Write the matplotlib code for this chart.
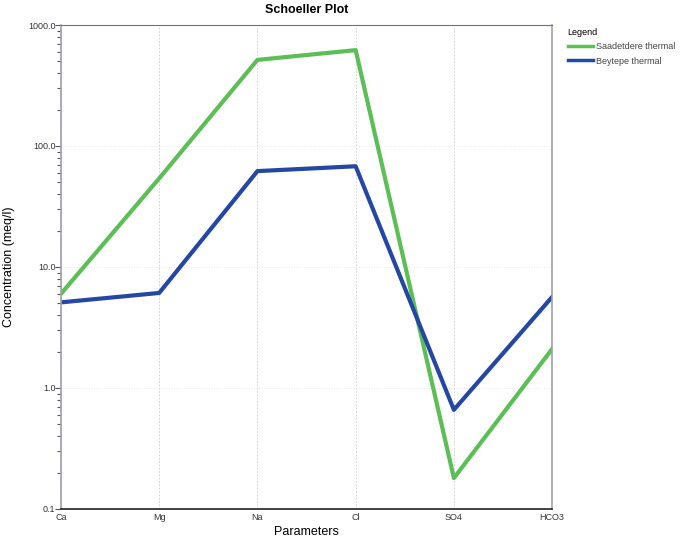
import matplotlib
matplotlib.use('Agg')
import matplotlib.pyplot as plt
from matplotlib.ticker import LogLocator, NullFormatter

params = ['Ca', 'Mg', 'Na', 'Cl', 'SO4', 'HCO3']
saadetdere = [6.0, 54.0, 515.0, 620.0, 0.18, 2.1]
beytepe = [5.1, 6.1, 62.0, 68.0, 0.66, 5.65]
series_names = ['Saadetdere thermal', 'Beytepe thermal']
ytick_vals = [0.1, 1, 10, 100, 1000]
ytick_labels = ['0.1', '1.0', '10.0', '100.0', '1000.0']

plt.rcParams['font.family'] = ['Liberation Sans Narrow', 'Liberation Sans', 'DejaVu Sans']

fig = plt.figure(figsize=(6.85, 5.38), dpi=100)
ax = fig.add_axes([0.089, 0.054, 0.717, 0.8995])

x = list(range(len(params)))
ax.plot(x, saadetdere, color='#5cbf55', lw=3.0, label=series_names[0])
ax.plot(x, beytepe, color='#2347a3', lw=3.0, label=series_names[1])

ax.set_yscale('log')
ax.set_ylim(0.1, 1000)
ax.set_xlim(0, len(params) - 1)
ax.set_xticks(x)
ax.set_xticklabels(params, fontsize=6.5, color='#333333')
ax.set_yticks(ytick_vals)
ax.set_yticklabels(ytick_labels, fontsize=6.5, color='#333333')
ax.yaxis.set_minor_locator(LogLocator(base=10, subs=range(2, 10)))
ax.yaxis.set_minor_formatter(NullFormatter())
ax.tick_params(axis='y', which='major', length=4, width=0.8, color='#555555', pad=0)
ax.tick_params(axis='y', which='minor', length=3, width=0.8, color='#555555')
ax.tick_params(axis='x', length=0, pad=3)

ax.grid(axis='x', color='#cccccc', linestyle=(0, (2, 2)), lw=0.6)
ax.grid(axis='y', which='major', color='#dddddd', linestyle=(0, (1, 2)), lw=0.6)

for s in ['left', 'right']:
    ax.spines[s].set_color('#a0a0a8')
    ax.spines[s].set_linewidth(1.2)
ax.spines['top'].set_color('#707080')
ax.spines['top'].set_linewidth(0.8)
ax.spines['bottom'].set_color('#222222')
ax.spines['bottom'].set_linewidth(1.2)

ax.set_xlabel('Parameters', fontsize=9, labelpad=3)
ax.set_ylabel('Concentration (meq/l)', fontsize=9, family=['Liberation Sans', 'DejaVu Sans'])
ax.yaxis.set_label_coords(-0.094, 0.5)
ax.set_title('Schoeller Plot', fontsize=9, fontweight='bold', pad=9, family=['Liberation Sans', 'DejaVu Sans'])

leg = ax.legend(loc='upper left', bbox_to_anchor=(1.015, 1.011), frameon=False,
                title='Legend', fontsize=6.5, title_fontsize=6.5,
                handlelength=2.8, handletextpad=0.4, labelspacing=0.6)
leg._legend_box.align = 'left'
for t in leg.get_texts():
    t.set_color('#444444')
for line in leg.get_lines():
    line.set_linewidth(2.5)

plt.savefig('out.png', dpi=100)
